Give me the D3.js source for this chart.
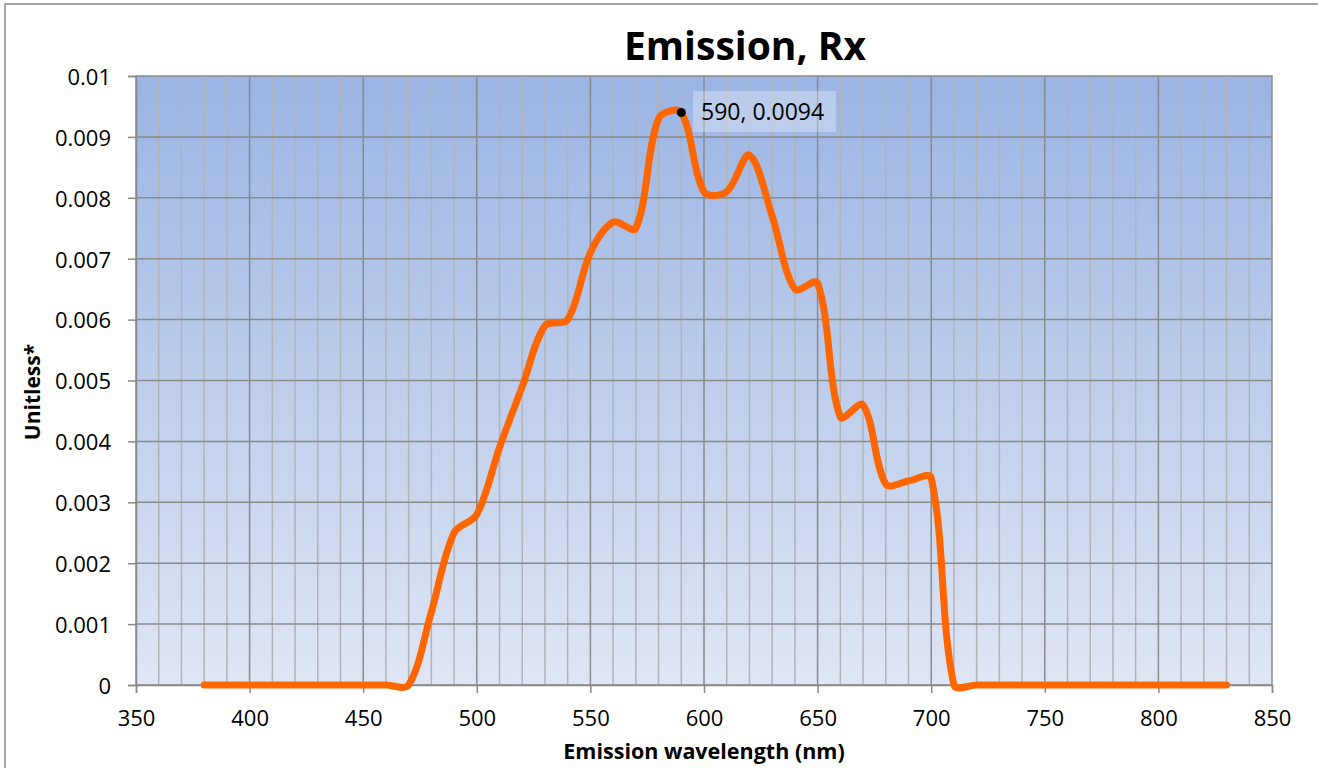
<!DOCTYPE html>
<html><head><meta charset="utf-8">
<script src="https://cdn.jsdelivr.net/npm/d3@7"></script>
<style>body{margin:0;background:#fff;}svg{display:block;}</style>
</head><body>
<svg id="c" width="1318" height="768"></svg>
<script>
const wavelengths = [380,390,400,410,420,430,440,450,460,470,480,490,500,510,520,530,540,550,560,570,580,590,600,610,620,630,640,650,660,670,680,690,700,710,720,730,740,750,760,770,780,790,800,810,820,830];
const emission = [0,0,0,0,0,0,0,0,0,0,0.0012,0.0025,0.0028,0.0039,0.0049,0.0059,0.0060,0.0071,0.0076,0.0075,0.0093,0.0094,0.0081,0.0081,0.0087,0.0077,0.0065,0.0066,0.0044,0.0046,0.0033,0.00335,0.0034,0,0,0,0,0,0,0,0,0,0,0,0,0];
const xTicks = [350,400,450,500,550,600,650,700,750,800,850];
const yTicks = [0,0.001,0.002,0.003,0.004,0.005,0.006,0.007,0.008,0.009,0.01];
const labelPoint = {x:590, y:0.0094, text:"590, 0.0094"};
const title = "Emission, Rx";
const xTitle = "Emission wavelength (nm)";
const yTitle = "Unitless*";

// Spreadsheet-style smoothed line: Bezier segments whose control arms are
// weighted by neighbouring segment lengths.
function SmoothCurve(context){ this._context = context; }
SmoothCurve.prototype = {
  areaStart(){ this._line = 0; }, areaEnd(){ this._line = NaN; },
  lineStart(){ this._x = []; this._y = []; },
  point(x,y){ this._x.push(+x); this._y.push(+y); },
  lineEnd(){
    const X=this._x, Y=this._y, n=X.length, c=this._context;
    if(!n) return;
    c.moveTo(X[0],Y[0]);
    if(n===2){ c.lineTo(X[1],Y[1]); return; }
    const d = i => Math.hypot(X[i+1]-X[i], Y[i+1]-Y[i]) || 1e-9;
    const arm = (i, dir) => {
      if(i===0) return [(X[1]-X[0])/3, (Y[1]-Y[0])/3];
      if(i===n-1) return [-(X[n-1]-X[n-2])/3, -(Y[n-1]-Y[n-2])/3];
      const tx = X[i+1]-X[i-1], ty = Y[i+1]-Y[i-1];
      const d0 = d(i-1), d1 = d(i);
      const w = (dir>0 ? d1 : d0)/(d0+d1)/3;
      return [dir*tx*w, dir*ty*w];
    };
    for(let i=0;i<n-1;i++){
      const a = arm(i, 1), b = arm(i+1, -1);
      c.bezierCurveTo(X[i]+a[0], Y[i]+a[1], X[i+1]+b[0], Y[i+1]+b[1], X[i+1], Y[i+1]);
    }
  }
};
const smoothCurve = ctx => new SmoothCurve(ctx);

const svg = d3.select("#c");
const L=136, R=1272, T=76, B=685;
const x = d3.scaleLinear().domain([350,850]).range([L,R]);
const y = d3.scaleLinear().domain([0,0.01]).range([B,T]);
const font = "'Open Sans', 'Liberation Sans', sans-serif";

// outer frame
svg.append("rect").attr("x",5).attr("y",4).attr("width",1400).attr("height",900)
  .attr("fill","#fff").attr("stroke","#a6a6a6").attr("stroke-width",2);

const defs = svg.append("defs");
const g = defs.append("linearGradient").attr("id","bg").attr("x1",0).attr("y1",0).attr("x2",0).attr("y2",1);
g.append("stop").attr("offset","0%").attr("stop-color","#9ab4e3");
g.append("stop").attr("offset","100%").attr("stop-color","#dfe6f4");

svg.append("rect").attr("x",L).attr("y",T).attr("width",R-L).attr("height",B-T).attr("fill","url(#bg)");

// minor vertical gridlines
const minor = d3.range(360,850,10).filter(v=>v%50!==0);
svg.append("g").selectAll("line").data(minor).join("line")
  .attr("x1",d=>x(d)).attr("x2",d=>x(d)).attr("y1",T).attr("y2",B)
  .attr("stroke","#b3b3b3").attr("stroke-width",1.5);
// major vertical
svg.append("g").selectAll("line").data(xTicks.slice(1,-1)).join("line")
  .attr("x1",d=>x(d)).attr("x2",d=>x(d)).attr("y1",T).attr("y2",B)
  .attr("stroke","#8a8a8a").attr("stroke-width",1.5);
// horizontal
svg.append("g").selectAll("line").data(yTicks.slice(1,-1)).join("line")
  .attr("x1",L).attr("x2",R).attr("y1",d=>y(d)).attr("y2",d=>y(d))
  .attr("stroke","#8a8a8a").attr("stroke-width",1.5);

svg.append("rect").attr("x",L).attr("y",T).attr("width",R-L).attr("height",B-T)
  .attr("fill","none").attr("stroke","#8a8a8a").attr("stroke-width",1.5);

// axes
const xAxis = svg.append("g").attr("transform",`translate(0,${B})`)
  .call(d3.axisBottom(x).tickValues(xTicks).tickSize(8).tickPadding(17).tickFormat(d3.format("d")));
const yAxis = svg.append("g").attr("transform",`translate(${L},0)`)
  .call(d3.axisLeft(y).tickValues(yTicks).tickSize(8).tickPadding(17).tickFormat(d=>d===0?"0":d3.format("")(+d.toFixed(3))));
[xAxis,yAxis].forEach(a=>{
  a.select(".domain").attr("stroke","#8a8a8a").attr("stroke-width",1.5);
  a.selectAll(".tick line").attr("stroke","#8a8a8a").attr("stroke-width",1.5);
  a.selectAll("text").attr("font-family",font).attr("font-size",22).attr("fill","#000");
});
yAxis.selectAll("text").attr("dy","0.38em");

// line
const line = d3.line().x((d,i)=>x(wavelengths[i])).y(d=>y(d)).curve(smoothCurve);
svg.append("path").datum(emission).attr("d",line).attr("fill","none")
  .attr("stroke","#ff6600").attr("stroke-width",7).attr("stroke-linejoin","round").attr("stroke-linecap","round");

// data label
svg.append("rect").attr("x",693).attr("y",91).attr("width",143).attr("height",41)
  .attr("fill","#ffffff").attr("fill-opacity",0.3);
svg.append("circle").attr("cx",x(labelPoint.x)).attr("cy",y(labelPoint.y)).attr("r",4.5).attr("fill","#000");
svg.append("text").attr("x",701).attr("y",120).text(labelPoint.text)
  .attr("font-family",font).attr("font-size",23).attr("fill","#000");

// titles
svg.append("text").attr("x",745).attr("y",60).attr("text-anchor","middle").text(title)
  .attr("font-family",font).attr("font-weight","bold").attr("font-size",39);
svg.append("text").attr("x",704).attr("y",759).attr("text-anchor","middle").text(xTitle)
  .attr("font-family",font).attr("font-weight","bold").attr("font-size",21.5);
svg.append("text").attr("transform","translate(40,392) rotate(-90)").attr("text-anchor","middle").text(yTitle)
  .attr("font-family",font).attr("font-weight","bold").attr("font-size",21);
</script>
</body></html>
